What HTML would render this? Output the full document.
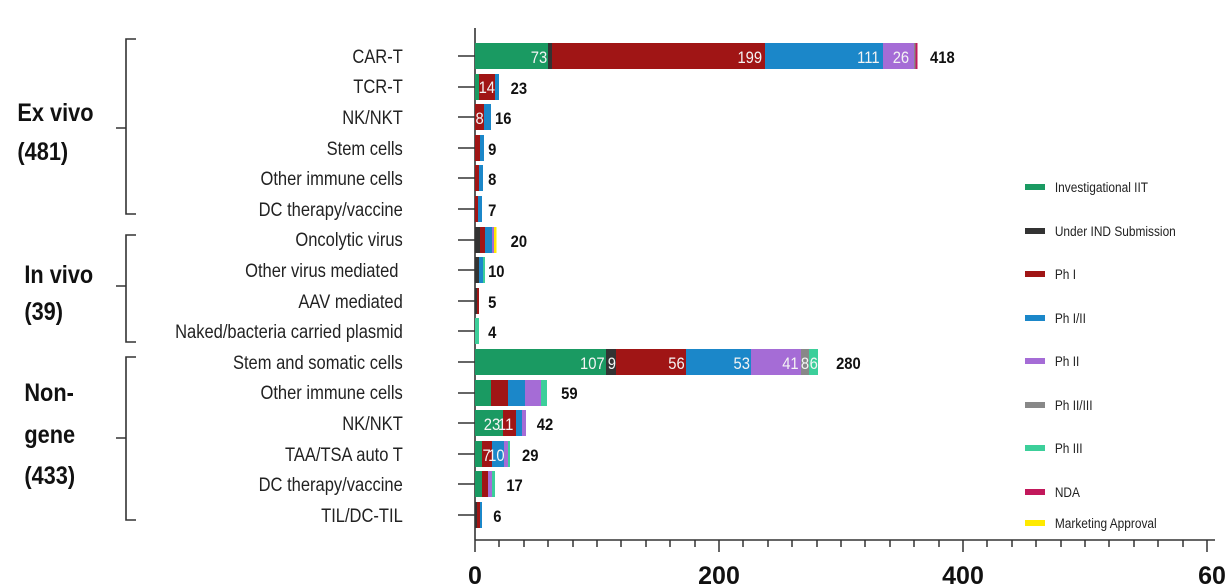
<!DOCTYPE html>
<html><head><meta charset="utf-8"><style>
html,body{margin:0;padding:0;background:#fff;}
svg{display:block;font-family:"Liberation Sans",Arial,sans-serif;}
</style></head><body>
<svg width="1225" height="587" viewBox="0 0 1225 587" xmlns="http://www.w3.org/2000/svg">
<g fill="none" stroke="#333" stroke-width="1.6">
<path d="M136,39 H126 V214 H136 M126,128 H116"/>
<path d="M136,235 H126 V342 H136 M126,286 H116"/>
<path d="M136,357 H126 V520 H136 M126,438 H116"/>
</g>
<g transform="scale(0.87,1)" font-weight="bold" font-size="25" fill="#111">
<text x="20" y="121">Ex vivo</text>
<text x="20" y="160">(481)</text>
<text x="28" y="283">In vivo</text>
<text x="28" y="320">(39)</text>
<text x="28" y="401">Non-</text>
<text x="28" y="443">gene</text>
<text x="28" y="484">(433)</text>
</g>
<g transform="scale(0.87,1)" font-size="19" fill="#222" text-anchor="end">
<text x="463" y="63">CAR-T</text>
<text x="463" y="93">TCR-T</text>
<text x="463" y="124">NK/NKT</text>
<text x="463" y="155">Stem cells</text>
<text x="463" y="185">Other immune cells</text>
<text x="463" y="216">DC therapy/vaccine</text>
<text x="463" y="246">Oncolytic virus</text>
<text x="458" y="277">Other virus mediated</text>
<text x="463" y="308">AAV mediated</text>
<text x="463" y="338">Naked/bacteria carried plasmid</text>
<text x="463" y="369">Stem and somatic cells</text>
<text x="463" y="399">Other immune cells</text>
<text x="463" y="430">NK/NKT</text>
<text x="463" y="461">TAA/TSA auto T</text>
<text x="463" y="491">DC therapy/vaccine</text>
<text x="463" y="522">TIL/DC-TIL</text>
</g>
<g stroke="#333" stroke-width="1.6">
<line x1="475" y1="28" x2="475" y2="540"/>
<line x1="475" y1="540" x2="1215" y2="540"/>
</g>
<g stroke="#333" stroke-width="1.5">
<line x1="458" y1="56" x2="475" y2="56"/><line x1="458" y1="87" x2="475" y2="87"/>
<line x1="458" y1="117" x2="475" y2="117"/><line x1="458" y1="148" x2="475" y2="148"/>
<line x1="458" y1="178" x2="475" y2="178"/><line x1="458" y1="209" x2="475" y2="209"/>
<line x1="458" y1="240" x2="475" y2="240"/><line x1="458" y1="270" x2="475" y2="270"/>
<line x1="458" y1="301" x2="475" y2="301"/><line x1="458" y1="331" x2="475" y2="331"/>
<line x1="458" y1="362" x2="475" y2="362"/><line x1="458" y1="393" x2="475" y2="393"/>
<line x1="458" y1="423" x2="475" y2="423"/><line x1="458" y1="454" x2="475" y2="454"/>
<line x1="458" y1="484" x2="475" y2="484"/><line x1="458" y1="515" x2="475" y2="515"/>
<line x1="475" y1="540" x2="475" y2="552"/><line x1="719" y1="540" x2="719" y2="552"/>
<line x1="963" y1="540" x2="963" y2="552"/><line x1="1207" y1="540" x2="1207" y2="552"/>
<line x1="499" y1="540" x2="499" y2="547"/><line x1="524" y1="540" x2="524" y2="547"/>
<line x1="548" y1="540" x2="548" y2="547"/><line x1="573" y1="540" x2="573" y2="547"/>
<line x1="597" y1="540" x2="597" y2="547"/><line x1="621" y1="540" x2="621" y2="547"/>
<line x1="646" y1="540" x2="646" y2="547"/><line x1="670" y1="540" x2="670" y2="547"/>
<line x1="695" y1="540" x2="695" y2="547"/><line x1="743" y1="540" x2="743" y2="547"/>
<line x1="768" y1="540" x2="768" y2="547"/><line x1="792" y1="540" x2="792" y2="547"/>
<line x1="817" y1="540" x2="817" y2="547"/><line x1="841" y1="540" x2="841" y2="547"/>
<line x1="865" y1="540" x2="865" y2="547"/><line x1="890" y1="540" x2="890" y2="547"/>
<line x1="914" y1="540" x2="914" y2="547"/><line x1="939" y1="540" x2="939" y2="547"/>
<line x1="987" y1="540" x2="987" y2="547"/><line x1="1012" y1="540" x2="1012" y2="547"/>
<line x1="1036" y1="540" x2="1036" y2="547"/><line x1="1061" y1="540" x2="1061" y2="547"/>
<line x1="1085" y1="540" x2="1085" y2="547"/><line x1="1109" y1="540" x2="1109" y2="547"/>
<line x1="1134" y1="540" x2="1134" y2="547"/><line x1="1158" y1="540" x2="1158" y2="547"/>
<line x1="1183" y1="540" x2="1183" y2="547"/>
</g>
<g font-size="25" font-weight="bold" fill="#111" text-anchor="middle">
<text x="475" y="584">0</text><text x="719" y="584">200</text><text x="963" y="584">400</text><text x="1219" y="584">600</text>
</g>
<g>
<rect x="475" y="43" width="73" height="26" fill="#1a9a62"/><rect x="548" y="43" width="4" height="26" fill="#333"/>
<rect x="552" y="43" width="213" height="26" fill="#a01515"/><rect x="765" y="43" width="118" height="26" fill="#1b87c9"/>
<rect x="883" y="43" width="31" height="26" fill="#a56cd6"/><rect x="914" y="43" width="1.5" height="26" fill="#888"/>
<rect x="915.5" y="43" width="2" height="26" fill="#c2185b"/>
<rect x="475" y="74" width="4" height="26" fill="#1a9a62"/><rect x="479" y="74" width="16" height="26" fill="#a01515"/><rect x="495" y="74" width="4" height="26" fill="#1b87c9"/>
<rect x="475" y="104" width="9" height="26" fill="#a01515"/><rect x="484" y="104" width="7" height="26" fill="#1b87c9"/>
<rect x="475" y="135" width="5" height="26" fill="#a01515"/><rect x="480" y="135" width="4" height="26" fill="#1b87c9"/>
<rect x="475" y="165" width="4" height="26" fill="#a01515"/><rect x="479" y="165" width="4" height="26" fill="#1b87c9"/>
<rect x="475" y="196" width="3" height="26" fill="#a01515"/><rect x="478" y="196" width="4" height="26" fill="#1b87c9"/>
<rect x="475" y="227" width="5" height="26" fill="#333"/><rect x="480" y="227" width="5" height="26" fill="#a01515"/>
<rect x="485" y="227" width="7" height="26" fill="#1b87c9"/><rect x="492" y="227" width="2" height="26" fill="#a56cd6"/>
<rect x="494" y="227" width="2.5" height="26" fill="#ffea00"/>
<rect x="475" y="257" width="4" height="26" fill="#333"/><rect x="479" y="257" width="4" height="26" fill="#1b87c9"/><rect x="483" y="257" width="2" height="26" fill="#3ccf9a"/>
<rect x="475" y="288" width="2" height="26" fill="#333"/><rect x="477" y="288" width="2" height="26" fill="#a01515"/>
<rect x="475" y="318" width="4" height="26" fill="#3ccf9a"/>
<rect x="475" y="349" width="131" height="26" fill="#1a9a62"/><rect x="606" y="349" width="10" height="26" fill="#333"/>
<rect x="616" y="349" width="70" height="26" fill="#a01515"/><rect x="686" y="349" width="65" height="26" fill="#1b87c9"/>
<rect x="751" y="349" width="50" height="26" fill="#a56cd6"/><rect x="801" y="349" width="8" height="26" fill="#888"/>
<rect x="809" y="349" width="9" height="26" fill="#3ccf9a"/>
<rect x="475" y="380" width="16" height="26" fill="#1a9a62"/><rect x="491" y="380" width="17" height="26" fill="#a01515"/>
<rect x="508" y="380" width="17" height="26" fill="#1b87c9"/><rect x="525" y="380" width="16" height="26" fill="#a56cd6"/>
<rect x="541" y="380" width="6" height="26" fill="#3ccf9a"/>
<rect x="475" y="410" width="28" height="26" fill="#1a9a62"/><rect x="503" y="410" width="13" height="26" fill="#a01515"/>
<rect x="516" y="410" width="6" height="26" fill="#1b87c9"/><rect x="522" y="410" width="4" height="26" fill="#a56cd6"/>
<rect x="475" y="441" width="7" height="26" fill="#1a9a62"/><rect x="482" y="441" width="10" height="26" fill="#a01515"/>
<rect x="492" y="441" width="12" height="26" fill="#1b87c9"/><rect x="504" y="441" width="4" height="26" fill="#a56cd6"/>
<rect x="508" y="441" width="2" height="26" fill="#3ccf9a"/>
<rect x="475" y="471" width="7" height="26" fill="#1a9a62"/><rect x="482" y="471" width="6" height="26" fill="#a01515"/>
<rect x="488" y="471" width="4" height="26" fill="#a56cd6"/><rect x="492" y="471" width="3" height="26" fill="#3ccf9a"/>
<rect x="475" y="502" width="2" height="26" fill="#333"/><rect x="477" y="502" width="3" height="26" fill="#a01515"/><rect x="480" y="502" width="2" height="26" fill="#1b87c9"/>
</g>
<g transform="scale(0.87,1)" font-size="17" fill="#f4f4f4" text-anchor="end">
<text x="629" y="63">73</text><text x="876" y="63">199</text><text x="1011" y="63">111</text><text x="1045" y="63">26</text>
<text x="569" y="93">14</text><text x="556" y="124">8</text>
<text x="695" y="369">107</text><text x="708" y="369">9</text><text x="787" y="369">56</text>
<text x="862" y="369">53</text><text x="918" y="369">41</text><text x="930" y="369">8</text><text x="940" y="369">6</text>
<text x="575" y="430">23</text><text x="590" y="430">11</text>
<text x="564" y="461">7</text><text x="580" y="461">10</text>
</g>
<g transform="scale(0.87,1)" font-size="17" font-weight="bold" fill="#111">
<text x="1069" y="63">418</text><text x="587" y="94">23</text><text x="569" y="124">16</text>
<text x="561" y="155">9</text><text x="561" y="185">8</text><text x="561" y="216">7</text>
<text x="587" y="247">20</text><text x="561" y="277">10</text><text x="561" y="308">5</text><text x="561" y="338">4</text>
<text x="961" y="369">280</text><text x="645" y="399">59</text><text x="617" y="430">42</text>
<text x="600" y="461">29</text><text x="582" y="491">17</text><text x="567" y="522">6</text>
</g>
<g>
<rect x="1025" y="184" width="20" height="6" fill="#1a9a62"/>
<rect x="1025" y="228" width="20" height="6" fill="#333"/>
<rect x="1025" y="271" width="20" height="6" fill="#a01515"/>
<rect x="1025" y="315" width="20" height="6" fill="#1b87c9"/>
<rect x="1025" y="358" width="20" height="6" fill="#a56cd6"/>
<rect x="1025" y="402" width="20" height="6" fill="#888"/>
<rect x="1025" y="445" width="20" height="6" fill="#3ccf9a"/>
<rect x="1025" y="489" width="20" height="6" fill="#c2185b"/>
<rect x="1025" y="520" width="20" height="6" fill="#ffea00"/>
</g>
<g transform="scale(0.85,1)" font-size="14" fill="#222">
<text x="1241" y="192">Investigational IIT</text>
<text x="1241" y="236">Under IND Submission</text>
<text x="1241" y="279">Ph I</text>
<text x="1241" y="323">Ph I/II</text>
<text x="1241" y="366">Ph II</text>
<text x="1241" y="410">Ph II/III</text>
<text x="1241" y="453">Ph III</text>
<text x="1241" y="497">NDA</text>
<text x="1241" y="528">Marketing Approval</text>
</g>
</svg>
</body></html>
